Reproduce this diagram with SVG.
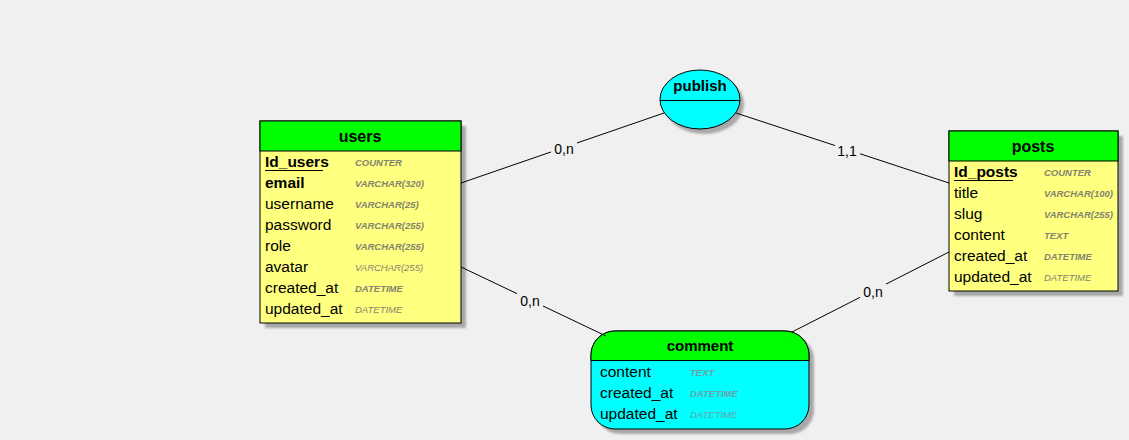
<svg xmlns="http://www.w3.org/2000/svg" width="1129" height="440" viewBox="0 0 1129 440">
  <style>
    .ttl { font-family: "Liberation Sans", Arial, sans-serif; font-size: 16px; font-weight: bold; fill: #000; text-anchor: middle; }
    .fld { font-family: "Liberation Sans", Arial, sans-serif; font-size: 15.5px; fill: #000; }
    .key { font-weight: bold; }
    .typ { font-family: "Liberation Sans", Arial, sans-serif; font-size: 9.5px; font-style: italic; font-weight: bold; fill: #84846e; }
    .typl { font-weight: normal; }
    .typc { fill: #6fa0aa; }
    .card { font-family: "Liberation Sans", Arial, sans-serif; font-size: 14px; fill: #000; text-anchor: middle; }
    .edge { stroke: #000; stroke-width: 1; fill: none; }
    .shadow { fill: #a8a8a8; filter: url(#blur); }
    .outline { stroke: #000; stroke-width: 1; }
  </style>
  <defs>
    <filter id="blur" x="-10%" y="-10%" width="120%" height="120%">
      <feGaussianBlur stdDeviation="1.2"/>
    </filter>
  </defs>
  <rect width="1129" height="440" fill="#f0f0f0"/>

  <!-- users entity -->
  <g id="users">
    <rect class="shadow" x="265" y="126" width="201" height="202"/>
    <rect x="260" y="121" width="201" height="202" fill="#ffff80" class="outline"/>
    <rect x="260" y="121" width="201" height="30" fill="#00ff00" class="outline"/>
    <text class="ttl" x="360" y="142">users</text>
    <text class="fld key" x="265" y="167">Id_users</text>
    <line x1="265" y1="170.5" x2="323" y2="170.5" stroke="#000"/>
    <text class="typ" x="355" y="166">COUNTER</text>
    <text class="fld key" x="265" y="188">email</text>
    <text class="typ" x="355" y="187">VARCHAR(320)</text>
    <text class="fld" x="265" y="209">username</text>
    <text class="typ" x="355" y="208">VARCHAR(25)</text>
    <text class="fld" x="265" y="230">password</text>
    <text class="typ" x="355" y="229">VARCHAR(255)</text>
    <text class="fld" x="265" y="251">role</text>
    <text class="typ" x="355" y="250">VARCHAR(255)</text>
    <text class="fld" x="265" y="272">avatar</text>
    <text class="typ typl" x="355" y="271">VARCHAR(255)</text>
    <text class="fld" x="265" y="293">created_at</text>
    <text class="typ" x="355" y="292">DATETIME</text>
    <text class="fld" x="265" y="314">updated_at</text>
    <text class="typ typl" x="355" y="313">DATETIME</text>
  </g>

  <!-- posts entity -->
  <g id="posts">
    <rect class="shadow" x="954" y="136" width="169" height="160"/>
    <rect x="949" y="131" width="169" height="160" fill="#ffff80" class="outline"/>
    <rect x="949" y="131" width="169" height="30" fill="#00ff00" class="outline"/>
    <text class="ttl" x="1033" y="152">posts</text>
    <text class="fld key" x="954" y="177">Id_posts</text>
    <line x1="954" y1="180.5" x2="1013" y2="180.5" stroke="#000"/>
    <text class="typ" x="1044" y="176">COUNTER</text>
    <text class="fld" x="954" y="198">title</text>
    <text class="typ" x="1044" y="197">VARCHAR(100)</text>
    <text class="fld" x="954" y="219">slug</text>
    <text class="typ" x="1044" y="218">VARCHAR(255)</text>
    <text class="fld" x="954" y="240">content</text>
    <text class="typ" x="1044" y="239">TEXT</text>
    <text class="fld" x="954" y="261">created_at</text>
    <text class="typ" x="1044" y="260">DATETIME</text>
    <text class="fld" x="954" y="282">updated_at</text>
    <text class="typ typl" x="1044" y="281">DATETIME</text>
  </g>

  <!-- publish association -->
  <g id="publish">
    <ellipse class="shadow" cx="704" cy="104" rx="40" ry="30"/>
    <ellipse cx="700" cy="99.5" rx="40" ry="29.5" fill="#00ffff" class="outline"/>
    <line x1="660" y1="100.5" x2="740" y2="100.5" stroke="#000"/>
    <text class="ttl" x="700" y="91" style="font-size:15px">publish</text>
  </g>

  <!-- comment association -->
  <g id="comment">
    <rect class="shadow" x="596" y="336" width="218" height="98" rx="24"/>
    <rect x="591" y="331" width="218" height="98" rx="24" fill="#00ffff" class="outline"/>
    <path d="M591 360.5 V355 A24 24 0 0 1 615 331 H785 A24 24 0 0 1 809 355 V360.5 Z" fill="#00ff00" class="outline"/>
    <text class="ttl" x="700" y="351" style="font-size:15px">comment</text>
    <text class="fld" x="600" y="377">content</text>
    <text class="typ typc" x="690" y="376">TEXT</text>
    <text class="fld" x="600" y="398">created_at</text>
    <text class="typ typc" x="690" y="397">DATETIME</text>
    <text class="fld" x="600" y="419">updated_at</text>
    <text class="typ typl typc" x="690" y="418">DATETIME</text>
  </g>

  <!-- connectors with cardinality labels -->
  <g id="connectors">
    <line class="edge" x1="461" y1="183" x2="664" y2="113"/>
    <line class="edge" x1="736" y1="113" x2="949" y2="183"/>
    <line class="edge" x1="461" y1="267" x2="606" y2="336"/>
    <line class="edge" x1="949" y1="252" x2="792" y2="332"/>
    <rect x="551" y="140" width="26" height="17" fill="#f0f0f0"/>
    <text class="card" x="564" y="154">0,n</text>
    <rect x="835" y="142" width="25" height="17" fill="#f0f0f0"/>
    <text class="card" x="847" y="156">1,1</text>
    <rect x="517" y="292" width="26" height="17" fill="#f0f0f0"/>
    <text class="card" x="530" y="306">0,n</text>
    <rect x="860" y="283" width="26" height="17" fill="#f0f0f0"/>
    <text class="card" x="873" y="297">0,n</text>
  </g>
</svg>
